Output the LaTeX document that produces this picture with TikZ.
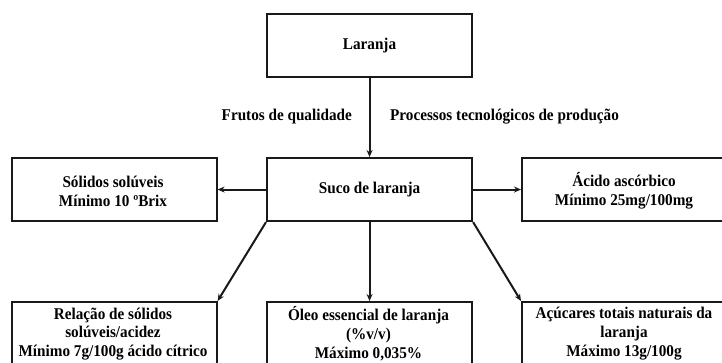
\documentclass[tikz,border=0pt]{standalone}
\usepackage{fontspec}
\setmainfont{Liberation Serif}
\usetikzlibrary{arrows.meta}
\begin{document}
\begin{tikzpicture}[x=1pt,y=-1pt,
  box/.style={draw=black!90,line width=2.1pt,rectangle,minimum width=205pt,minimum height=63pt,inner sep=0pt,anchor=north west},
  lowbox/.style={box,minimum height=80pt},
  txt/.style={font=\fontsize{15.2}{17.5}\selectfont\bfseries,align=center,inner sep=0pt,text=black,yscale=1.08},
  arr/.style={draw=black!90,line width=2pt,-{Stealth[length=7pt,width=6pt]}}]
\useasboundingbox (0,0) rectangle (722,363);
\clip (0,0) rectangle (722,363);
% boxes
\node[box] (lar) at (266,13) {};
\node[box] (suco) at (266,157) {};
\node[box] (sol) at (10.5,157) {};
\node[box] (aci) at (521,157) {};
\node[lowbox] (rel) at (10.5,301) {};
\node[lowbox] (oleo) at (266,301) {};
\node[lowbox] (acu) at (521,301) {};
% texts
\node[txt] (tlar) at (lar.center) {Laranja};
\node[txt] (tsuco) at (suco.center) {Suco de laranja};
\node[txt] (tsol) at (113,191) {Sólidos solúveis\\Mínimo 10 ºBrix};
\node[txt] (taci) at (624,191) {Ácido ascórbico\\Mínimo 25mg/100mg};
\node[txt] (trel) at (113,334) {Relação de sólidos\\solúveis/acidez\\Mínimo 7g/100g ácido cítrico};
\node[txt] (toleo) at (368.5,334) {Óleo essencial de laranja\\(\%v/v)\\Máximo 0,035\%};
\node[txt] (tacu) at (624,334) {Açúcares totais naturais da\\laranja\\Máximo 13g/100g};
\node[txt,anchor=east] (lfr) at (352,117) {Frutos de qualidade};
\node[txt,anchor=west] (lpr) at (390,117) {Processos tecnológicos de produção};
% connectors
\draw[arr] (lar.south) -- (suco.north);
\draw[arr] (suco.west) -- (sol.east);
\draw[arr] (suco.east) -- (aci.west);
\draw[arr] (suco.south west) -- (rel.north east);
\draw[arr] (suco.south) -- (oleo.north);
\draw[arr] (suco.south east) -- (acu.north west);
\end{tikzpicture}
\end{document}
